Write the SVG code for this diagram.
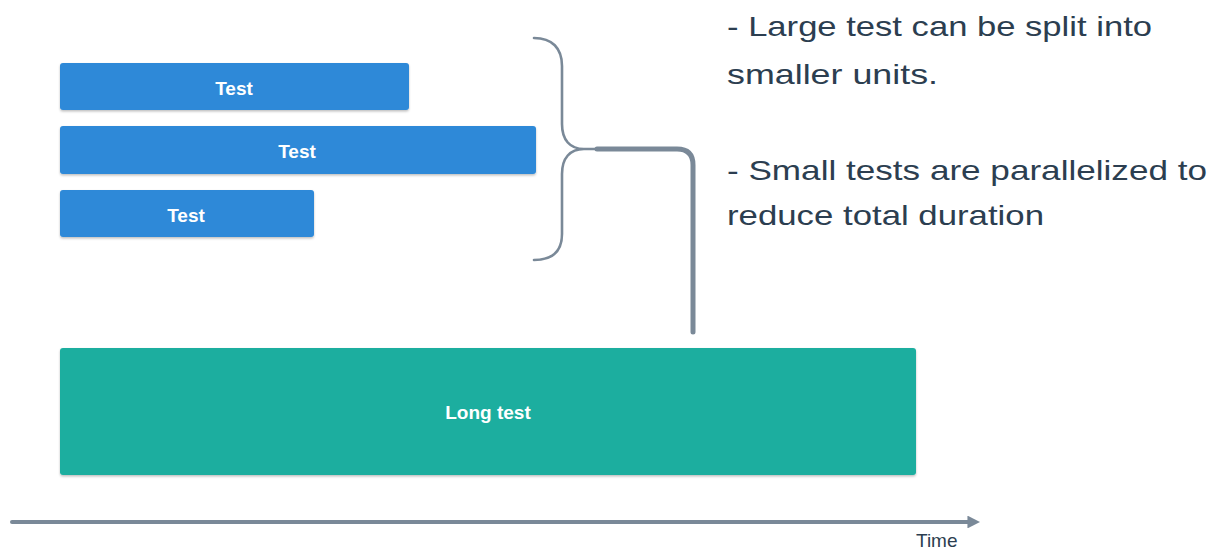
<svg xmlns="http://www.w3.org/2000/svg" width="1215" height="550" viewBox="0 0 1215 550">
  <defs>
    <filter id="shadow" x="-5%" y="-20%" width="110%" height="150%">
      <feDropShadow dx="0" dy="1.5" stdDeviation="1.2" flood-color="#000" flood-opacity="0.25"/>
    </filter>
    <marker id="arrow" viewBox="0 0 10 10" refX="2" refY="5" markerWidth="3.2" markerHeight="3.2" orient="auto" markerUnits="strokeWidth">
      <path d="M0,0 L10,5 L0,10 Z" fill="#7a8998"/>
    </marker>
    <style>
      .bar { fill: #2d89d8; filter: url(#shadow); }
      .long { fill: #1aae9f; filter: url(#shadow); }
      .label { font-family: "Liberation Sans", Arial, sans-serif; font-weight: bold; font-size: 19px; fill: #ffffff; text-anchor: middle; }
      .note { font-family: "Liberation Sans", Arial, sans-serif; font-size: 28px; fill: #2c3e50; }
      .axis-label { font-family: "Liberation Sans", Arial, sans-serif; font-size: 19px; fill: #2c3e50; }
      .brace { fill: none; stroke: #7a8998; stroke-width: 2.6; stroke-linecap: round; }
      .lead { fill: none; stroke: #7a8998; stroke-width: 5; stroke-linecap: round; stroke-linejoin: round; }
      .axis { fill: none; stroke: #7a8998; stroke-width: 4; stroke-linecap: round; }
    </style>
  </defs>

  <rect width="1215" height="550" fill="#ffffff"/>

  <g id="test-1">
    <rect class="bar" x="60" y="63" width="349" height="47" rx="3"/>
    <text class="label" x="234" y="95">Test</text>
  </g>
  <g id="test-2">
    <rect class="bar" x="60" y="126" width="476" height="48" rx="3"/>
    <text class="label" x="297" y="158">Test</text>
  </g>
  <g id="test-3">
    <rect class="bar" x="60" y="190" width="254" height="47" rx="3"/>
    <text class="label" x="186" y="222">Test</text>
  </g>
  <g id="long-test">
    <rect class="long" x="60" y="348" width="856" height="127" rx="3"/>
    <text class="label" x="488" y="419">Long test</text>
  </g>

  <g id="connectors">
    <!-- curly brace grouping the short tests -->
    <path class="brace" d="M534,38 C552,38 562,48 562,66 L562,124 C562,140 570,149 584,149 L598,149 M584,149 C570,149 562,158 562,174 L562,234 C562,252 552,260 534,260"/>
    <!-- lead from the brace down toward the long test -->
    <path class="lead" d="M597,149 L677,149 Q693,149 693,165 L693,332"/>
    <!-- time axis -->
    <path class="axis" d="M12,522 L970,522" marker-end="url(#arrow)"/>
  </g>

  <g id="notes">
    <text class="note" x="727" y="36" textLength="425" lengthAdjust="spacingAndGlyphs">- Large test can be split into</text>
    <text class="note" x="727" y="84" textLength="211" lengthAdjust="spacingAndGlyphs">smaller units.</text>
    <text class="note" x="727" y="180" textLength="480" lengthAdjust="spacingAndGlyphs">- Small tests are parallelized to</text>
    <text class="note" x="727" y="225" textLength="317" lengthAdjust="spacingAndGlyphs">reduce total duration</text>
  </g>

  <g id="axis-label">
    <text class="axis-label" x="916" y="547">Time</text>
  </g>
</svg>
